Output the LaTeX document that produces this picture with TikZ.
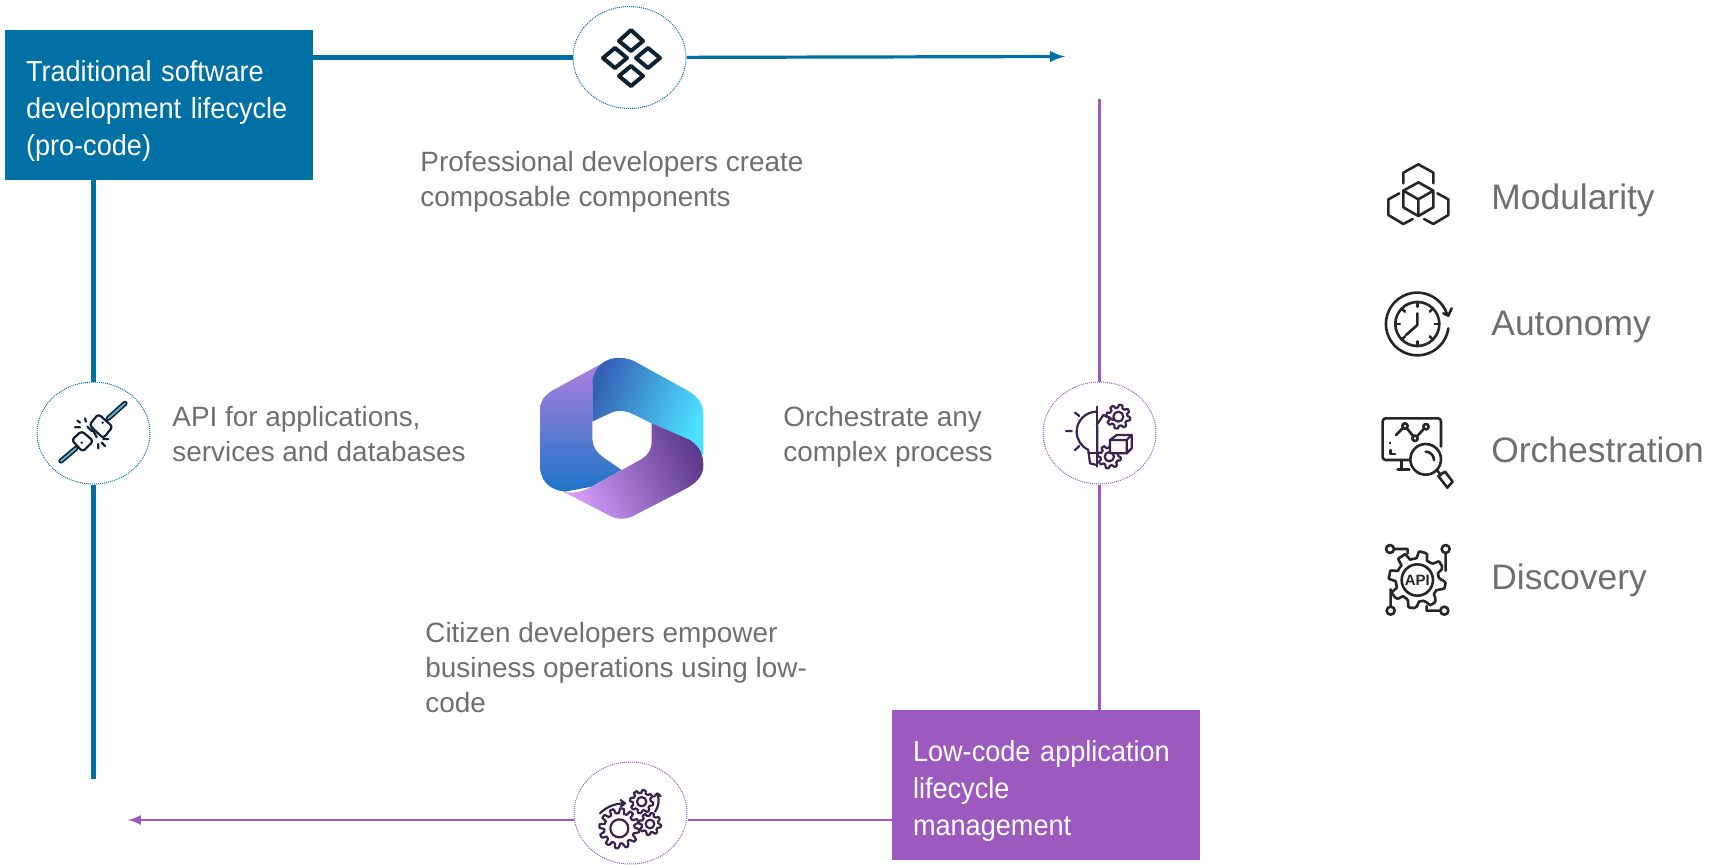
\documentclass[tikz,border=0pt]{standalone}
\usepackage{fontspec}
\usepackage{xcolor}
\setmainfont{Liberation Sans}
\newfontfamily\boxfont[FakeStretch=0.935]{Liberation Sans}
\usetikzlibrary{shapes.geometric}
\definecolor{procode}{HTML}{0070A5}
\definecolor{lowcode}{HTML}{9C59BE}
\definecolor{greytext}{HTML}{6F6F6F}
\definecolor{iconblue}{HTML}{0C2233}
\definecolor{iconpurple}{HTML}{3B2350}
\tikzset{
	boxlabel/.style={minimum width=154pt,minimum height=75pt,inner sep=0pt,text=white,align=left,text width=133pt,font=\boxfont\fontsize{14.5}{18.5}\selectfont},
	story/.style={inner sep=0pt,anchor=west,align=left,text=greytext,font=\fontsize{13.95}{17.5}\selectfont},
	pillar/.style={inner sep=0pt,anchor=base west,text=greytext,font=\fontsize{17.7}{20}\selectfont},
	badge/.style={ellipse,fill=white,line width=0.5pt,dash pattern=on 0.5pt off 0.5pt,minimum width=56.5pt,minimum height=51pt,inner sep=0pt},
	icon/.style={line width=1.3pt,line cap=round,line join=round},
}
% x y r n : gear of n teeth, outer radius r
\newcommand{\gearat}[4]{plot[smooth cycle,samples=\numexpr8*#4\relax,domain=0:359,variable=\t]
	({#1+#3*(0.88+0.12*min(1,max(-1,3*sin(#4*\t))))*cos(\t)},{#2+#3*(0.88+0.12*min(1,max(-1,3*sin(#4*\t))))*sin(\t)})}

\begin{document}
\begin{tikzpicture}[x=0.5pt,y=-0.5pt]
	\useasboundingbox (0,0) rectangle (1709,864);

	\node[boxlabel,fill=procode] (procodebox) at (159,105) {\rule{0pt}{16pt}Traditional software\\development lifecycle\\(pro-code)};
	\node[boxlabel,fill=lowcode] (lowcodebox) at (1046,785) {\rule{0pt}{16pt}Low-code application\\lifecycle\\management};

	\node[badge,draw=procode] (topbadge) at (629.5,57.5) {};
	\node[badge,draw=procode] (leftbadge) at (93.5,433) {};
	\node[badge,draw=lowcode] (rightbadge) at (1099.5,433) {};
	\node[badge,draw=lowcode] (bottombadge) at (630.5,813) {};

	\coordinate (topend) at (1065,56.5);
	\coordinate (leftend) at (93.5,779);
	\coordinate (rightstart) at (1099.5,99);
	\coordinate (bottomend) at (128,820);

	\draw [procode,line width=2.4pt] (procodebox.east |- topbadge) -- (topbadge);
	\draw [procode,line width=1.6pt,-latex] (topbadge) -- (topend);
	\draw [procode,line width=2.4pt] (leftbadge |- procodebox.south) -- (leftbadge);
	\draw [procode,line width=2.4pt] (leftbadge) -- (leftend);
	\draw [lowcode,line width=1.2pt] (rightstart) -- (rightbadge);
	\draw [lowcode,line width=1.2pt] (rightbadge) -- (rightbadge |- lowcodebox.north);
	\draw [lowcode,line width=1.2pt] (lowcodebox.west |- bottomend) -- (bottombadge.east |- bottomend);
	\draw [lowcode,line width=1.2pt,-latex] (bottombadge.west |- bottomend) -- (bottomend);

	\node[story] (prolabel) at (420,182) {Professional developers create\\composable components};
	\node[story] (apilabel) at (172,434) {API for applications,\\services and databases};
	\node[story] (orchlabel) at (783,437) {Orchestrate any\\complex process};
	\node[story] (citizenlabel) at (425,668) {Citizen developers empower\\business operations using low-\\code};

	\node[pillar] (modularity) at (1491,209) {Modularity};
	\node[pillar] (autonomy) at (1491,335) {Autonomy};
	\node[pillar] (orchestration) at (1491,462) {Orchestration};
	\node[pillar] (discovery) at (1491,589) {Discovery};

	% logo
	\begin{scope}[shift={(520,340)},scale=1/3]
		\definecolor{logoa}{HTML}{AD80DC}
		\definecolor{logob}{HTML}{6A78DC}
		\definecolor{logoc}{HTML}{1E74C8}
		\shade[top color=logoa,middle color=logob,bottom color=logoc]
			(250,68) -- (100,150) .. controls (75,165) and (60,180) .. (60,215) -- (60,375) .. controls (60,425) and (90,450) .. (135,455)
			-- (215,440) -- (305,390) -- (250,352) .. controls (228,335) and (217,320) .. (217,290) -- (217,130) -- cycle;
		\definecolor{logod}{HTML}{3560B5}
		\definecolor{logoe}{HTML}{4AA0E0}
		\definecolor{logof}{HTML}{4CE2FF}
		\shade[left color=logod,middle color=logoe,right color=logof,shading angle=70]
			(217,245) -- (217,135) .. controls (217,75) and (270,35) .. (340,62) -- (500,150) .. controls (535,170) and (550,190) .. (550,225)
			-- (550,345) -- (395,250) -- (345,225) .. controls (310,208) and (290,210) .. (265,222) -- cycle;
		\definecolor{logog}{HTML}{D29BF8}
		\definecolor{logoh}{HTML}{9C67C8}
		\definecolor{logoi}{HTML}{5E3A8C}
		\shade[left color=logog,middle color=logoh,right color=logoi,shading angle=115]
			(130,455) .. controls (175,465) and (205,445) .. (225,435) -- (305,390) -- (360,360) .. controls (385,345) and (395,330) .. (395,300)
			-- (395,250) -- (510,300) .. controls (540,320) and (550,345) .. (550,375) .. controls (550,405) and (535,425) .. (500,445)
			-- (345,525) .. controls (320,540) and (290,540) .. (265,525) -- cycle;
	\end{scope}

	% top badge, four diamonds
	\begin{scope}[icon,iconblue,line width=2pt]
		\draw (631,30) -- (643,41) -- (631,51) -- (619,41) -- cycle;
		\draw (615,48) -- (627,58) -- (615,68) -- (603,58) -- cycle;
		\draw (648,48) -- (660,58) -- (648,68) -- (636,58) -- cycle;
		\draw (631,66) -- (643,76) -- (631,86) -- (619,76) -- cycle;
	\end{scope}

	% left badge, plug
	\begin{scope}[shift={(0,360)},scale=1/3,icon,iconblue,line width=1.1pt]
		\draw [line width=2.6pt] (325,175) -- (375,130);
		\draw [procode!60!white,line width=1pt] (325,175) -- (375,130);
		\draw [line width=2.6pt] (228,265) -- (183,303);
		\draw [procode!60!white,line width=1pt] (228,265) -- (183,303);
		\draw [fill=white,rounded corners=1.5pt] (295,162) -- (338,200) -- (310,235) -- (268,195) -- cycle;
		\draw [fill=white,rounded corners=1.5pt] (245,213) -- (280,243) -- (248,275) -- (215,240) -- cycle;
		\draw (262,200) -- (275,213) (278,208) -- (290,232);
		\draw (232,182) -- (240,188) (255,175) -- (258,185) (225,202) -- (240,202);
		\draw (325,237) -- (310,237) (315,258) -- (305,248) (295,265) -- (295,252);
		\fill (308,188) circle (4) (245,248) circle (4);
	\end{scope}

	% right badge, bulb and gears
	\begin{scope}[shift={(1020,370)},scale=1/3,icon,iconpurple,line width=1.1pt]
		\draw (230,110) -- (230,290);
		\draw (230,125) arc[start angle=270,end angle=115,radius=60] -- (210,280) -- (230,285);
		\draw (205,250) -- (230,250);
		\draw (138,183) -- (155,183) (165,128) -- (178,138) (165,240) -- (178,228);
		\draw (230,165) -- (250,135) -- (280,150) (232,245) -- (232,170);
		\draw \gearat{295}{140}{36}{8};
		\draw (295,140) circle (15);
		\draw [fill=white] \gearat{268}{260}{35}{8};
		\draw (268,260) circle (14);
		\draw [fill=white] (270,210) -- (290,195) -- (335,195) -- (335,235) -- (320,250) -- (270,250) -- cycle;
		\draw (270,210) -- (320,210) -- (335,195) (320,210) -- (320,250);
	\end{scope}

	% bottom badge, three gears
	\begin{scope}[shift={(560,750)},scale=1/3,icon,iconpurple,line width=1.1pt]
		\draw \gearat{178}{235}{60}{12};
		\draw (178,235) circle (27);
		\draw \gearat{270}{222}{33}{8};
		\draw (270,222) circle (13);
		\draw \gearat{245}{155}{35}{8};
		\draw (245,155) circle (14);
		\draw (120,190) .. controls (140,170) and (165,160) .. (195,160) (182,150) -- (195,160) -- (182,170);
		\draw (285,185) .. controls (298,165) and (298,150) .. (292,130) (282,140) -- (292,130) -- (302,138);
	\end{scope}

	% modularity
	\begin{scope}[shift={(1360,150)},scale=1/3,icon,black!85]
		\draw (175,97) -- (220,122) -- (220,172) -- (175,198) -- (130,172) -- (130,122) -- cycle;
		\draw (130,122) -- (175,148) -- (220,122) (175,148) -- (175,198);
		\draw (130,100) -- (130,68) -- (175,43) -- (220,68) -- (220,100);
		\draw (118,130) -- (85,148) -- (85,195) -- (130,222) -- (158,207);
		\draw (232,130) -- (265,148) -- (265,195) -- (220,222) -- (192,207);
	\end{scope}

	% autonomy
	\begin{scope}[shift={(1360,150)},scale=1/3,icon,black!85]
		\draw (172,522) circle (66);
		\draw (265,535) arc[start angle=8,end angle=341,radius=94];
		\draw (250,490) -- (265,497) -- (275,475);
		\draw (172,490) -- (172,525) -- (138,555);
		\draw (172,456) -- (172,470) (172,574) -- (172,588) (106,522) -- (120,522) (224,522) -- (238,522);
		\draw (125,475) -- (135,485) (219,475) -- (209,485) (125,569) -- (135,559) (219,569) -- (209,559);
	\end{scope}

	% orchestration
	\begin{scope}[shift={(1360,400)},scale=1/3,icon,black!85]
		\draw [rounded corners=1.5pt] (243,140) -- (243,55) -- (68,55) -- (68,180) -- (145,180);
		\draw (125,180) -- (125,208) (113,208) -- (148,208);
		\draw (197,178) circle (46);
		\draw (197,155) arc[start angle=-90,end angle=0,radius=25];
		\draw (232,212) -- (243,225);
		\draw (235,228) -- (255,215) -- (278,245) -- (262,263) -- cycle;
		\draw (108,105) -- (135,78) -- (165,115) -- (198,80);
		\draw [fill=white] (135,78) circle (8) (165,115) circle (8) (198,80) circle (8);
		\draw (90,128) -- (90,130) (92,150) -- (92,162) -- (105,162);
	\end{scope}

	% discovery
	\begin{scope}[shift={(1360,400)},scale=1/3,icon,black!85]
		\draw \gearat{172}{540}{85}{8};
		\draw (172,540) circle (47);
		\node[inner sep=0pt,font=\bfseries\fontsize{7.5}{8}\selectfont,black!85] (apimark) at (172,540) {API};
		\draw (90,447) circle (12) (102,447) -- (143,447) -- (143,460);
		\draw (257,447) circle (12) (257,459) -- (257,512);
		\draw (92,632) circle (12) (92,620) -- (92,568);
		\draw (253,632) circle (12) (241,632) -- (200,632) -- (200,618);
	\end{scope}
\end{tikzpicture}
\end{document}
